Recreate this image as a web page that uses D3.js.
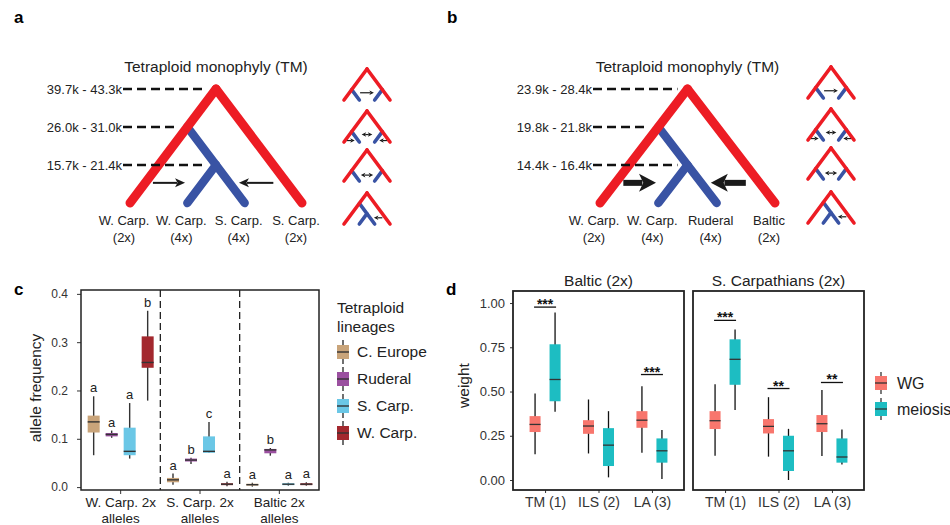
<!DOCTYPE html>
<html>
<head>
<meta charset="utf-8">
<script src="https://d3js.org/d3.v7.min.js"></script>
<style>
  body { margin: 0; background: #fff; }
  svg { font-family: "Liberation Sans", Arial, sans-serif; }
  .axis .domain { display: none; }
  .axis line { stroke: #333; }
  .axis text { fill: #333; }
</style>
</head>
<body>
<script>

// ---- panels a / b : scenario trees ----
var datesA = ["39.7k - 43.3k", "26.0k - 31.0k", "15.7k - 21.4k"]
var datesB = ["23.9k - 28.4k", "19.8k - 21.8k", "14.4k - 16.4k"]
var leavesA = [["W. Carp.", "(2x)"], ["W. Carp.", "(4x)"], ["S. Carp.", "(4x)"], ["S. Carp.", "(2x)"]]
var leavesB = [["W. Carp.", "(2x)"], ["W. Carp.", "(4x)"], ["Ruderal", "(4x)"], ["Baltic", "(2x)"]]
// tree topology in (leaf index, node level)
var redBranches = [[[1.5, 3], [0, 0]], [[1.5, 3], [3, 0]]]
var nestedBlue = [[[1, 2], [2, 0]], [[1.5, 1], [1, 0]]]
var sideBlue = [[[0.5, 1], [1, 0]], [[2.5, 1], [2, 0]]]
var nodeLevels = [[1.5, 3], [1, 2], [1.5, 1]]
var mainArrows = [{from: 0.4, to: 0.96, lv: 0.53}, {from: 2.5, to: 1.9, lv: 0.53}]
// small scenario icons: 1 = TM side, 2 = ILS+, 3 = ILS, 4 = LA
var iconTypes = [1, 2, 3, 4]
var iconArrows = {
  1: [{from: 1.05, to: 1.95, lv: 0.7}],
  2: [{from: 1.15, to: 1.85, lv: 0.72, both: true}, {from: 0.2, to: 0.7, lv: 0.14}, {from: 2.8, to: 2.3, lv: 0.14}],
  3: [{from: 1.1, to: 1.9, lv: 0.57, both: true}],
  4: [{from: 2.5, to: 1.95, lv: 0.6}]
}

// ---- panel c : allele frequency ----
var lineages = ["C. Europe", "Ruderal", "S. Carp.", "W. Carp."]
var lineageColors = ["#c9a47a", "#9b50a0", "#6bc7e6", "#a3282e"]
var alleleGroups = ["W. Carp. 2x alleles", "S. Carp. 2x alleles", "Baltic 2x alleles"]
var groupLines = [["W. Carp. 2x", "alleles"], ["S. Carp. 2x", "alleles"], ["Baltic 2x", "alleles"]]
// [lower whisker, q1, median, q3, upper whisker] per lineage
var freqWCarp = [[0.066, 0.113, 0.135, 0.148, 0.188], [0.102, 0.105, 0.109, 0.112, 0.117], [0.059, 0.066, 0.074, 0.123, 0.174], [0.179, 0.247, 0.258, 0.312, 0.365]]
var freqSCarp = [[0.005, 0.010, 0.015, 0.019, 0.028], [0.048, 0.053, 0.056, 0.059, 0.061], [0.071, 0.071, 0.074, 0.105, 0.135], [0.002, 0.004, 0.006, 0.008, 0.011]]
var freqBaltic = [[0.001, 0.003, 0.005, 0.007, 0.009], [0.065, 0.070, 0.077, 0.079, 0.081], [0.003, 0.004, 0.006, 0.008, 0.009], [0.003, 0.004, 0.006, 0.008, 0.010]]
var lettersWCarp = ["a", "a", "a", "b"]
var lettersSCarp = ["a", "b", "c", "a"]
var lettersBaltic = ["a", "b", "a", "a"]
var freqTicks = [0, 0.1, 0.2, 0.3, 0.4]

// ---- panel d : topology weights ----
var facets = ["Baltic (2x)", "S. Carpathians (2x)"]
var scenarios = ["TM (1)", "ILS (2)", "LA (3)"]
var methods = ["WG", "meiosis"]
var methodColors = ["#f8766d", "#1dbdc2"]
var balticWG = [[0.145, 0.271, 0.314, 0.361, 0.489], [0.150, 0.261, 0.305, 0.338, 0.455], [0.154, 0.295, 0.338, 0.389, 0.530]]
var balticMeiosis = [[0.385, 0.445, 0.568, 0.767, 0.947], [0.015, 0.079, 0.197, 0.293, 0.389], [0.006, 0.098, 0.165, 0.235, 0.282]]
var scarpWG = [[0.137, 0.288, 0.335, 0.389, 0.541], [0.132, 0.263, 0.303, 0.344, 0.468], [0.135, 0.271, 0.318, 0.367, 0.508]]
var scarpMeiosis = [[0.395, 0.538, 0.682, 0.795, 0.850], [0.000, 0.051, 0.165, 0.250, 0.289], [0.088, 0.098, 0.130, 0.235, 0.286]]
var balticSigLevel = [0.977, null, 0.596]
var balticSigText = ["***", "", "***"]
var scarpSigLevel = [0.902, 0.517, 0.551]
var scarpSigText = ["***", "**", "**"]
var weightTicks = [0, 0.25, 0.5, 0.75, 1]

var red = "#ed1c24", blue = "#3953a4"

var svg = d3.select("body").append("svg")
    .attr("width", 950)
    .attr("height", 525)

// panel letters
svg.selectAll(".plabel")
    .data([["a", 14, 23], ["b", 447, 23], ["c", 14, 295], ["d", 446, 295]])
  .enter().append("text")
    .attr("x", d => d[1]).attr("y", d => d[2])
    .style("font-weight", "bold").style("font-size", "17px")
    .text(d => d[0])

function arrow(g, x1, x2, yy, shaft, headLen, headHalf, both) {
  var dir = x2 > x1 ? 1 : -1
  var s1 = both ? x1 + dir * headLen * 0.8 : x1
  g.append("line")
      .attr("x1", s1).attr("x2", x2 - dir * headLen * 0.8)
      .attr("y1", yy).attr("y2", yy)
      .attr("stroke", "#1a1a1a").attr("stroke-width", shaft)
  var heads = both ? [[x2, dir], [x1, -dir]] : [[x2, dir]]
  heads.forEach(function(h) {
    var tip = h[0], d = h[1]
    g.append("path")
        .attr("d", "M" + tip + "," + yy + "L" + (tip - d * headLen) + "," + (yy - headHalf) +
          "L" + (tip - d * headLen * 0.75) + "," + yy + "L" + (tip - d * headLen) + "," + (yy + headHalf) + "Z")
        .attr("fill", "#1a1a1a")
  })
}

function drawTree(o) {
  var g = svg.append("g")
  var x = d3.scaleLinear().domain([0, 3]).range(o.xr)
  var y = d3.scaleLinear().domain([0, 3]).range(o.yr)
  var line = d3.line().x(d => x(d[0])).y(d => y(d[1]))

  g.selectAll(".blue").data(nestedBlue).enter().append("path")
      .attr("d", line).attr("fill", "none")
      .attr("stroke", blue).attr("stroke-width", 8.5).attr("stroke-linecap", "round")
  g.selectAll(".red").data(redBranches).enter().append("path")
      .attr("d", line).attr("fill", "none")
      .attr("stroke", red).attr("stroke-width", 9).attr("stroke-linecap", "round")

  g.selectAll(".dash").data(nodeLevels).enter().append("line")
      .attr("x1", x(0) - 7).attr("x2", d => x(d[0]) - 10)
      .attr("y1", d => y(d[1])).attr("y2", d => y(d[1]))
      .attr("stroke", "#111").attr("stroke-width", 2.6).attr("stroke-dasharray", "9,5")

  g.selectAll(".date").data(o.dates).enter().append("text")
      .attr("x", x(0) - 8).attr("y", (d, i) => y(nodeLevels[i][1]))
      .attr("dy", "0.35em").attr("text-anchor", "end")
      .style("font-size", "13px").attr("fill", "#222")
      .text(d => d)

  g.append("text")
      .attr("x", x(1.5)).attr("y", 71.5)
      .attr("text-anchor", "middle").style("font-size", "15.5px").attr("fill", "#222")
      .text("Tetraploid monophyly (TM)")

  var leaf = g.selectAll(".leaf").data(o.leaves).enter().append("text")
      .attr("text-anchor", "middle").style("font-size", "13px").attr("fill", "#222")
  leaf.append("tspan").attr("x", (d, i) => x(i) - 6).attr("y", y(0) + 22).text(d => d[0])
  leaf.append("tspan").attr("x", (d, i) => x(i) - 6).attr("y", y(0) + 39).text(d => d[1])

  mainArrows.forEach(function(a) {
    arrow(g, x(a.from), x(a.to), y(a.lv), o.shaft, o.headLen, o.headHalf, false)
  })

  // small scenario icons
  iconTypes.forEach(function(t, i) {
    var top = o.iconTops[i]
    var ix = d3.scaleLinear().domain([0, 3]).range([o.iconX - 23, o.iconX + 23])
    var iy = d3.scaleLinear().domain([0, 3]).range([top + 31, top])
    var il = d3.line().x(d => ix(d[0])).y(d => iy(d[1]))
    var ig = g.append("g")
    ig.selectAll(".ib").data(t === 4 ? nestedBlue : sideBlue).enter().append("path")
        .attr("d", il).attr("fill", "none")
        .attr("stroke", blue).attr("stroke-width", 3.6).attr("stroke-linecap", "round")
    ig.selectAll(".ir").data(redBranches).enter().append("path")
        .attr("d", il).attr("fill", "none")
        .attr("stroke", red).attr("stroke-width", 3.6).attr("stroke-linecap", "round")
    iconArrows[t].forEach(function(a) {
      arrow(ig, ix(a.from), ix(a.to), iy(a.lv), 1.2, 4.5, 2.3, a.both)
    })
  })
}

drawTree({xr: [130, 302], yr: [203, 89], dates: datesA, leaves: leavesA,
  shaft: 2, headLen: 10, headHalf: 4.5, iconX: 367, iconTops: [69, 111, 150, 193]})
drawTree({xr: [600, 775], yr: [203, 89], dates: datesB, leaves: leavesB,
  shaft: 6, headLen: 17, headHalf: 9, iconX: 831, iconTops: [67, 109, 148, 192]})

// ---- panel c ----
var cBox = {left: 81, right: 319, top: 290, bottom: 490}
var yc = d3.scaleLinear().domain([-0.006, 0.408]).range([cBox.bottom, cBox.top])
var xg = d3.scaleBand().domain(alleleGroups).range([cBox.left, cBox.right])
var xl = d3.scaleBand().domain(lineages).range([-36, 36])
var colorC = d3.scaleOrdinal().domain(lineages).range(lineageColors)

var gc = svg.append("g")

gc.append("g").attr("class", "axis")
    .attr("transform", "translate(" + cBox.left + ",0)")
    .call(d3.axisLeft(yc).tickValues(freqTicks).tickFormat(d3.format(".1f")).tickSize(4).tickPadding(9))
    .selectAll("text").style("font-size", "12px")

gc.append("g").attr("class", "axis")
    .attr("transform", "translate(0," + cBox.bottom + ")")
    .call(d3.axisBottom(xg).tickSize(4).tickFormat(""))

var glab = gc.selectAll(".glab").data(groupLines).enter().append("text")
    .attr("text-anchor", "middle").style("font-size", "13.5px").attr("fill", "#222")
glab.append("tspan").attr("x", (d, i) => xg(alleleGroups[i]) + xg.bandwidth() / 2).attr("y", 507).text(d => d[0])
glab.append("tspan").attr("x", (d, i) => xg(alleleGroups[i]) + xg.bandwidth() / 2).attr("y", 523).text(d => d[1])

gc.append("text")
    .attr("transform", "translate(41," + ((cBox.top + cBox.bottom) / 2 - 2) + ") rotate(-90)")
    .attr("text-anchor", "middle").style("font-size", "15.5px").attr("fill", "#222")
    .text("allele frequency")

gc.selectAll(".sep").data(alleleGroups.slice(1)).enter().append("line")
    .attr("x1", d => xg(d)).attr("x2", d => xg(d))
    .attr("y1", cBox.top).attr("y2", cBox.bottom)
    .attr("stroke", "#222").attr("stroke-width", 1.3).attr("stroke-dasharray", "7,4")

var cStats = [freqWCarp, freqSCarp, freqBaltic]
var cLetters = [lettersWCarp, lettersSCarp, lettersBaltic]

alleleGroups.forEach(function(grp, gi) {
  var center = xg(grp) + xg.bandwidth() / 2
  lineages.forEach(function(lin, li) {
    var s = cStats[gi][li]
    var cx = center + xl(lin) + xl.bandwidth() / 2
    gc.append("line")
        .attr("x1", cx).attr("x2", cx).attr("y1", yc(s[0])).attr("y2", yc(s[4]))
        .attr("stroke", "#333").attr("stroke-width", 1.4)
    gc.append("rect")
        .attr("x", cx - 6).attr("width", 12)
        .attr("y", yc(s[3])).attr("height", Math.max(1.5, yc(s[1]) - yc(s[3])))
        .attr("fill", colorC(lin))
    gc.append("line")
        .attr("x1", cx - 6).attr("x2", cx + 6).attr("y1", yc(s[2])).attr("y2", yc(s[2]))
        .attr("stroke", "#333").attr("stroke-width", 1.4)
    gc.append("text")
        .attr("x", cx).attr("y", yc(s[4]) - 4)
        .attr("text-anchor", "middle").style("font-size", "13px").attr("fill", "#222")
        .text(cLetters[gi][li])
  })
})

gc.append("rect")
    .attr("x", cBox.left).attr("y", cBox.top)
    .attr("width", cBox.right - cBox.left).attr("height", cBox.bottom - cBox.top)
    .attr("fill", "none").attr("stroke", "#222").attr("stroke-width", 1.5)

// legend c
var lc = gc.append("g")
lc.append("text").attr("x", 337).attr("y", 313).style("font-size", "15.5px").attr("fill", "#222")
  .text("Tetraploid")
lc.append("text").attr("x", 337).attr("y", 332).style("font-size", "15.5px").attr("fill", "#222")
  .text("lineages")
var lcItem = lc.selectAll(".li").data(lineages).enter().append("g")
    .attr("transform", (d, i) => "translate(343," + (352 + i * 27) + ")")
lcItem.append("line").attr("y1", -12).attr("y2", 12).attr("stroke", "#333").attr("stroke-width", 1.4)
lcItem.append("rect").attr("x", -6).attr("y", -7).attr("width", 12).attr("height", 14).attr("fill", d => colorC(d))
lcItem.append("line").attr("x1", -6).attr("x2", 6).attr("stroke", "#333").attr("stroke-width", 1.4)
lcItem.append("text").attr("x", 14).attr("dy", "0.35em").style("font-size", "15.5px").attr("fill", "#222")
    .text(d => d)

// ---- panel d ----
var dTop = 291, dBottom = 490
var facetRanges = [[513, 684], [693, 864]]
var yd = d3.scaleLinear().domain([-0.0565, 1.068]).range([dBottom, dTop])
var xm = d3.scaleBand().domain(methods).range([-20, 20])
var colorD = d3.scaleOrdinal().domain(methods).range(methodColors)
var dStats = [[balticWG, balticMeiosis], [scarpWG, scarpMeiosis]]
var dSigLevel = [balticSigLevel, scarpSigLevel]
var dSigText = [balticSigText, scarpSigText]

var gd = svg.append("g")

gd.append("g").attr("class", "axis")
    .attr("transform", "translate(" + facetRanges[0][0] + ",0)")
    .call(d3.axisLeft(yd).tickValues(weightTicks).tickFormat(d3.format(".2f")).tickSize(3).tickPadding(5))
    .selectAll("text").style("font-size", "13px")

gd.append("text")
    .attr("transform", "translate(469," + ((dTop + dBottom) / 2 - 5) + ") rotate(-90)")
    .attr("text-anchor", "middle").style("font-size", "15.5px").attr("fill", "#222")
    .text("weight")

facets.forEach(function(f, fi) {
  var xs = d3.scalePoint().domain(scenarios).range(facetRanges[fi]).padding(0.6)
  var g = gd.append("g")

  g.append("g").attr("class", "axis")
      .attr("transform", "translate(0," + dBottom + ")")
      .call(d3.axisBottom(xs).tickSize(3).tickPadding(4))
      .selectAll("text").style("font-size", "14px")

  g.append("text")
      .attr("x", (facetRanges[fi][0] + facetRanges[fi][1]) / 2).attr("y", 285.5)
      .attr("text-anchor", "middle").style("font-size", "15.5px").attr("fill", "#222")
      .text(f)

  scenarios.forEach(function(sc, si) {
    methods.forEach(function(m, mi) {
      var s = dStats[fi][mi][si]
      var cx = xs(sc) + xm(m) + xm.bandwidth() / 2
      g.append("line")
          .attr("x1", cx).attr("x2", cx).attr("y1", yd(s[0])).attr("y2", yd(s[4]))
          .attr("stroke", "#111").attr("stroke-width", 1.3)
      g.append("rect")
          .attr("x", cx - 5.5).attr("width", 11)
          .attr("y", yd(s[3])).attr("height", yd(s[1]) - yd(s[3]))
          .attr("fill", colorD(m))
      g.append("line")
          .attr("x1", cx - 5.5).attr("x2", cx + 5.5).attr("y1", yd(s[2])).attr("y2", yd(s[2]))
          .attr("stroke", "#333").attr("stroke-width", 1.3)
    })
    var lvl = dSigLevel[fi][si]
    if (lvl != null) {
      var x1 = xs(sc) + xm(methods[0]) + xm.bandwidth() / 2 - 1
      var x2 = xs(sc) + xm(methods[1]) + xm.bandwidth() / 2 + 1
      g.append("line")
          .attr("x1", x1).attr("x2", x2).attr("y1", yd(lvl)).attr("y2", yd(lvl))
          .attr("stroke", "#111").attr("stroke-width", 1.3)
      g.append("text")
          .attr("x", (x1 + x2) / 2).attr("y", yd(lvl) + 2)
          .attr("text-anchor", "middle").style("font-size", "14px").style("font-weight", "bold")
          .attr("fill", "#111")
          .text(dSigText[fi][si])
    }
  })

  g.append("rect")
      .attr("x", facetRanges[fi][0]).attr("y", dTop)
      .attr("width", facetRanges[fi][1] - facetRanges[fi][0]).attr("height", dBottom - dTop)
      .attr("fill", "none").attr("stroke", "#222").attr("stroke-width", 1.8)
})

// legend d
var ldItem = gd.selectAll(".ld").data(methods).enter().append("g")
    .attr("transform", (d, i) => "translate(881," + (383 + i * 26) + ")")
ldItem.append("line").attr("y1", -11).attr("y2", 11).attr("stroke", "#333").attr("stroke-width", 1.3)
ldItem.append("rect").attr("x", -6).attr("y", -7).attr("width", 12).attr("height", 14).attr("fill", d => colorD(d))
ldItem.append("line").attr("x1", -6).attr("x2", 6).attr("stroke", "#333").attr("stroke-width", 1.3)
ldItem.append("text").attr("x", 16).attr("dy", "0.35em").style("font-size", "16px").attr("fill", "#222")
    .text(d => d)

</script>
</body>
</html>
